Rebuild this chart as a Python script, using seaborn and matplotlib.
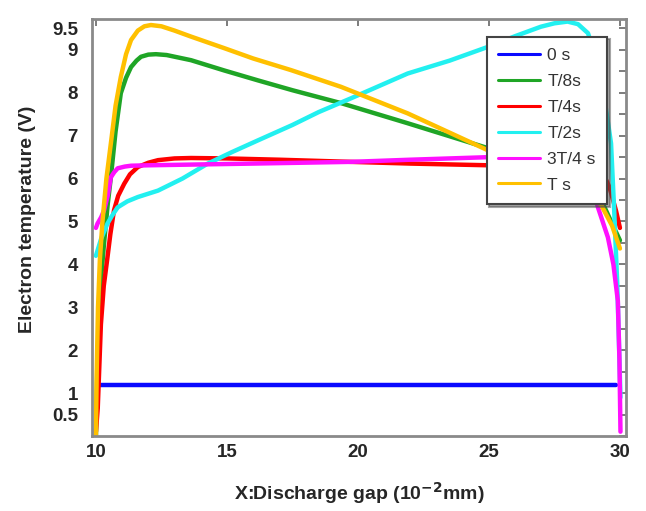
import numpy as np
import pandas as pd
import matplotlib
matplotlib.use("Agg")
import matplotlib.pyplot as plt
import seaborn as sns
from matplotlib.ticker import MultipleLocator

# values
series_names = ["0 s", "T/8s", "T/4s", "T/2s", "3T/4 s", "T s"]
series_colors = ["#0a0aff", "#1fa526", "#ff0000", "#22f0f0", "#ff10ff", "#ffc000"]

x_0 = [10.15, 29.85]
y_0 = [1.2, 1.2]

x_t8 = [10.0, 10.05, 10.12, 10.2, 10.31, 10.45, 10.57, 10.75, 10.95, 11.15, 11.34,
        11.55, 11.72, 12.0, 12.29, 12.7, 13.63, 14.9, 16.18, 17.5, 19.35, 21.9,
        24.96, 26.5, 28.0, 29.0, 29.4, 29.7, 30.0]
y_t8 = [0.0, 1.5, 2.8, 3.7, 4.49, 5.4, 6.03, 7.1, 7.99, 8.35, 8.6,
        8.75, 8.84, 8.89, 8.9, 8.88, 8.76, 8.52, 8.29, 8.06, 7.76, 7.29,
        6.71, 6.45, 6.1, 5.75, 5.35, 4.95, 4.56]

x_t4 = [10.0, 10.07, 10.19, 10.3, 10.44, 10.55, 10.69, 10.85, 11.08, 11.3, 11.6,
        12.0, 12.37, 13.0, 13.63, 15.0, 17.0, 19.73, 22.0, 25.0, 27.0, 28.5,
        29.3, 29.6, 29.85, 30.0]
y_t4 = [0.1, 0.65, 2.6, 3.5, 4.16, 4.7, 5.26, 5.6, 5.88, 6.1, 6.27,
        6.37, 6.43, 6.47, 6.48, 6.47, 6.44, 6.39, 6.35, 6.31, 6.3, 6.28,
        6.2, 5.8, 5.25, 4.85]

x_t2 = [10.0, 10.2, 10.44, 10.6, 10.83, 11.2, 11.6, 12.37, 13.3, 14.27, 15.2,
        16.18, 17.5, 18.5, 19.73, 21.9, 23.5, 24.96, 26.0, 26.98, 27.5, 28.0,
        28.4, 28.78, 29.1, 29.4, 29.66, 29.78, 29.9, 29.97, 30.02]
y_t2 = [4.2, 4.6, 4.95, 5.12, 5.33, 5.47, 5.57, 5.72, 6.0, 6.35, 6.62,
        6.89, 7.25, 7.55, 7.87, 8.45, 8.75, 9.07, 9.32, 9.54, 9.62, 9.66,
        9.6, 9.39, 8.8, 7.9, 6.82, 5.26, 3.5, 2.0, 0.9]

x_3t4 = [10.0, 10.06, 10.2, 10.31, 10.45, 10.57, 10.7, 10.83, 11.1, 11.34, 12.0,
         14.0, 16.0, 19.73, 22.0, 25.0, 27.0, 28.3, 28.8, 29.16, 29.54, 29.75,
         29.92, 29.98, 30.02]
y_3t4 = [4.85, 4.95, 5.1, 5.26, 5.6, 6.03, 6.15, 6.24, 6.28, 6.3, 6.31,
         6.33, 6.35, 6.39, 6.44, 6.5, 6.5, 6.45, 6.1, 5.33, 4.63, 4.0,
         3.15, 1.8, 0.1]

x_t = [10.0, 10.03, 10.08, 10.15, 10.25, 10.4, 10.57, 10.75, 10.95, 11.15, 11.34,
       11.6, 11.85, 12.1, 12.5, 13.0, 13.63, 14.9, 16.0, 17.44, 19.35, 21.9,
       24.96, 26.5, 28.0, 28.8, 29.27, 29.7, 30.0]
y_t = [0.0, 1.5, 3.0, 4.1, 5.0, 6.0, 6.82, 7.7, 8.37, 8.9, 9.23,
       9.45, 9.55, 9.58, 9.55, 9.45, 9.31, 9.04, 8.8, 8.53, 8.14, 7.52,
       6.66, 6.25, 5.82, 5.6, 5.4, 4.9, 4.37]

x_ticks = [10, 15, 20, 25, 30]
y_ticks = [0.5, 1, 2, 3, 4, 5, 6, 7, 8, 9, 9.5]
y_tick_labels = ["0.5", "1", "2", "3", "4", "5", "6", "7", "8", "9", "9.5"]

xs = [x_0, x_t8, x_t4, x_t2, x_3t4, x_t]
ys = [y_0, y_t8, y_t4, y_t2, y_3t4, y_t]
frames = []
for name, xv, yv in zip(series_names, xs, ys):
    frames.append(pd.DataFrame({"x": xv, "y": yv, "series": name}))
df = pd.concat(frames, ignore_index=True)

sns.set_style("white")
plt.rcParams["font.family"] = ["Liberation Sans", "DejaVu Sans"]

fig = plt.figure(figsize=(6.46, 5.11), dpi=100)
ax = fig.add_axes([0.1424, 0.1468, 0.8266, 0.8160])

sns.lineplot(data=df, x="x", y="y", hue="series", hue_order=series_names,
             palette=series_colors, sort=False, estimator=None, linewidth=3.2,
             ax=ax, legend=False)

ax.set_xlim(9.85, 30.23)
ax.set_ylim(0, 9.72)
ax.set_xticks(x_ticks)
ax.set_yticks(y_ticks)
ax.set_yticklabels(y_tick_labels)
ax.yaxis.set_minor_locator(MultipleLocator(0.5))

frame_gray = "#8a8a8a"
for sp in ax.spines.values():
    sp.set_color(frame_gray)
    sp.set_linewidth(2)
ax.tick_params(which="both", direction="in", top=True, right=True,
               color="#666666", width=1.2, length=5)
ax.tick_params(axis="x", pad=6)
ax.tick_params(axis="y", pad=10)
for lab in ax.get_xticklabels() + ax.get_yticklabels():
    lab.set_fontsize(13.5)
    lab.set_fontweight("bold")

ax.set_xlabel("X:Discharge gap (10$^{\\mathbf{-2}}$mm)", fontsize=14,
              fontweight="bold")
ax.set_ylabel("Electron temperature (V)", fontsize=14, fontweight="bold")
ax.yaxis.set_label_coords(-0.105, 0.52)
ax.xaxis.set_label_coords(0.5, -0.105)

handles = [plt.Line2D([], [], color=c, lw=2.2) for c in series_colors]
leg = ax.legend(handles, series_names, loc="upper left",
                bbox_to_anchor=(0.739, 0.958), fontsize=12.5, frameon=True,
                fancybox=False, shadow=True, borderpad=0.65, labelspacing=0.62,
                handlelength=2.4, handletextpad=0.45, borderaxespad=0)
leg.get_frame().set_edgecolor("#444444")
leg.get_frame().set_linewidth(1.5)
for t in leg.get_texts():
    t.set_color("#333333")

fig.savefig("out.png", dpi=100)
